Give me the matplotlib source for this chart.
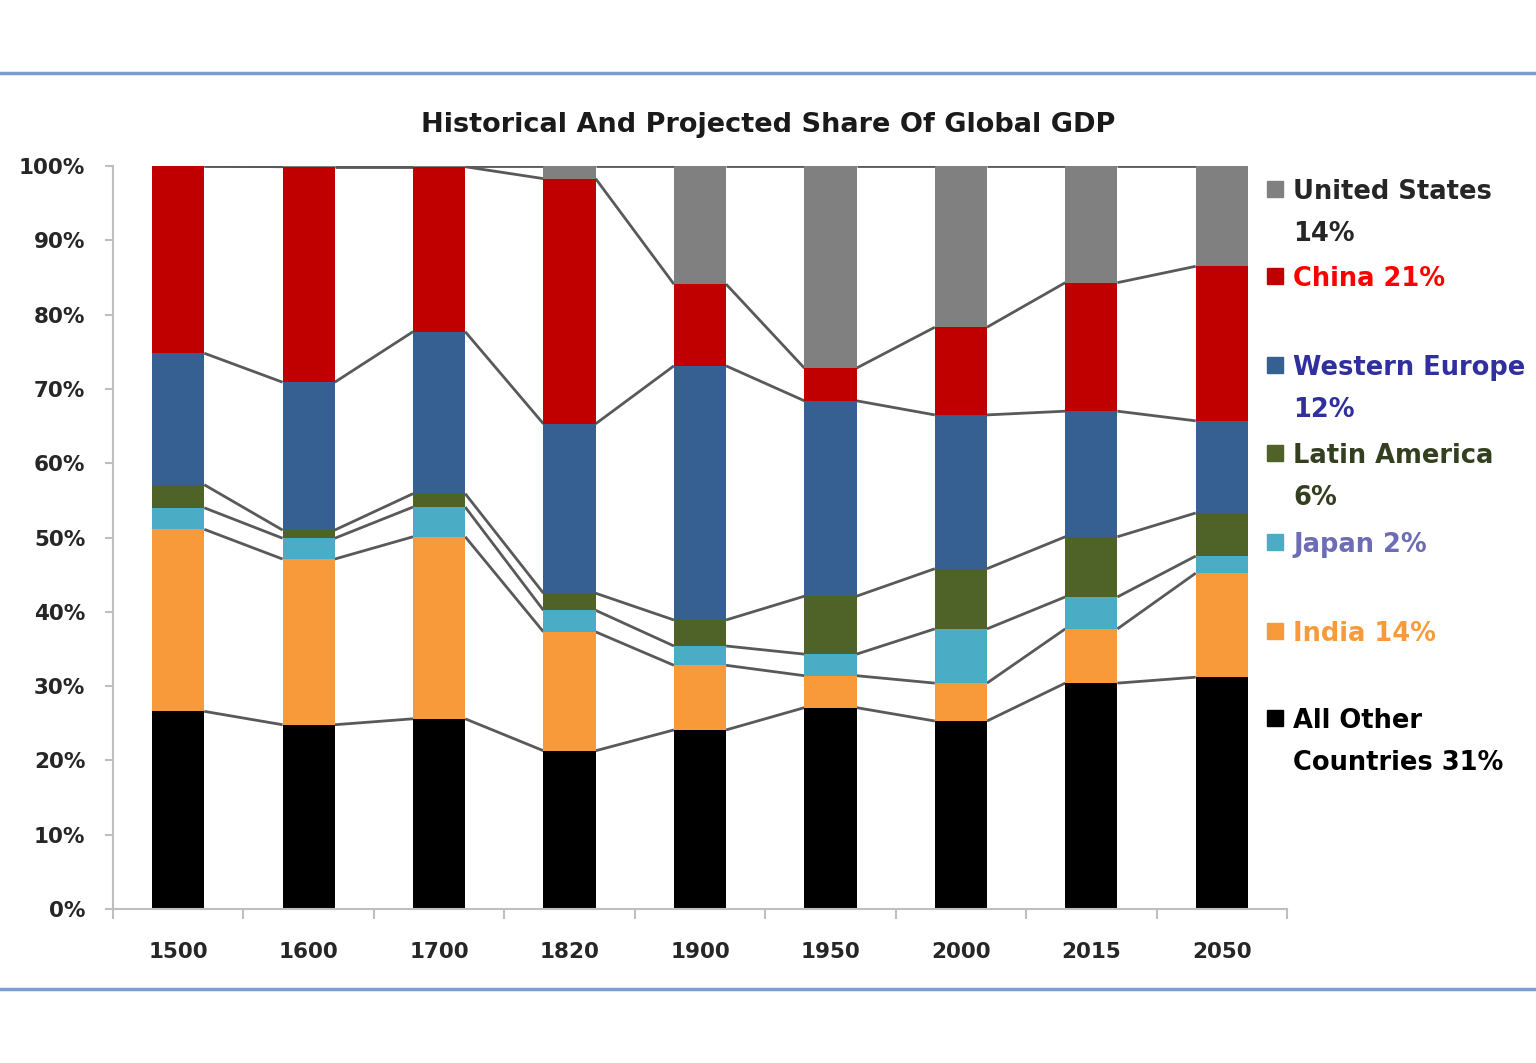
import numpy as np
import matplotlib
matplotlib.use("Agg")
import matplotlib.pyplot as plt

plt.rcParams['font.family'] = ['DejaVu Sans']

years = ["1500", "1600", "1700", "1820", "1900", "1950", "2000", "2015", "2050"]

# shares of global GDP, in percent, bottom to top
all_other = [26.6, 24.8, 25.6, 21.3, 24.1, 27.1, 25.3, 30.4, 31.2]
india = [24.5, 22.3, 24.5, 16.0, 8.7, 4.3, 5.1, 7.3, 14.0]
japan = [2.9, 2.8, 4.0, 2.9, 2.6, 2.9, 7.3, 4.3, 2.3]
latin_america = [3.1, 1.1, 1.8, 2.3, 3.5, 7.8, 8.1, 8.1, 5.8]
western_europe = [17.7, 19.9, 21.8, 22.8, 34.2, 26.3, 20.7, 16.9, 12.4]
china = [25.2, 29.0, 22.2, 33.0, 11.0, 4.4, 11.8, 17.3, 20.8]
united_states = [0.0, 0.1, 0.1, 1.7, 15.9, 27.2, 21.7, 15.7, 13.5]

series = [all_other, india, japan, latin_america, western_europe, china, united_states]
colors = ["#000000", "#F99A3A", "#4BACC6", "#4F6228", "#376092", "#C00000", "#808080"]

# legend entries: text lines, text colour, square colour
legend_entries = [
    (["United States", "14%"], "#262626", "#808080"),
    (["China 21%"], "#FF0000", "#C00000"),
    (["Western Europe", "12%"], "#2F2F9E", "#376092"),
    (["Latin America", "6%"], "#333F1F", "#4F6228"),
    (["Japan 2%"], "#6D6DB5", "#4BACC6"),
    (["India 14%"], "#F99A3A", "#F99A3A"),
    (["All Other", "Countries 31%"], "#000000", "#000000"),
]
# pixel rows (from top) of the first line of each entry
legend_rows = [189, 276, 365, 453, 542, 631, 718]
LINE_STEP = 42

W, H = 1536, 1063


def fy(row):
    return 1 - row / H


def main():
    fig = plt.figure(figsize=(W / 100, H / 100), dpi=100)
    ax = fig.add_axes([113 / W, fy(909), (1287 - 113) / W, (909 - 166) / H])

    x = np.arange(len(years))
    width = 0.4
    bottom = np.zeros(len(years))
    tops = []
    for values, color in zip(series, colors):
        values = np.array(values)
        ax.bar(x, values, width, bottom=bottom, color=color, zorder=2)
        bottom = bottom + values
        tops.append(bottom.copy())

    # series lines joining the segment tops of adjacent bars
    for top in tops:
        for i in range(len(years) - 1):
            ax.plot([x[i] + width / 2, x[i + 1] - width / 2], [top[i], top[i + 1]],
                    color="#595959", lw=2, zorder=1, solid_capstyle="butt")

    ax.set_xlim(-0.5, len(years) - 0.5)
    ax.set_ylim(0, 100)
    ax.set_yticks(np.arange(0, 101, 10))
    ax.set_yticklabels([f"{v}%" for v in range(0, 101, 10)])
    ax.set_xticks(x)
    ax.set_xticklabels(years)
    ax.set_xticks(np.arange(-0.5, len(years), 1), minor=True)
    ax.tick_params(axis="x", which="major", length=0, pad=24, labelsize=15.5, colors="#262626")
    ax.tick_params(axis="x", which="minor", length=7, width=1.5, color="#BFBFBF", direction="out")
    ax.tick_params(axis="y", length=6, width=1.5, color="#BFBFBF", labelsize=15.5, pad=14)
    for lab in ax.get_xticklabels() + ax.get_yticklabels():
        lab.set_fontweight("bold")
        lab.set_color("#262626")
    ax.spines["top"].set_visible(False)
    ax.spines["right"].set_visible(False)
    for side in ["left", "bottom"]:
        ax.spines[side].set_color("#BFBFBF")
        ax.spines[side].set_linewidth(1.5)

    fig.text(0.5, fy(125), "Historical And Projected Share Of Global GDP", ha="center",
             va="center", fontsize=19.5, fontweight="bold", color="#1a1a1a")

    # legend drawn as coloured text next to small squares
    for (lines, tcolor, scolor), row in zip(legend_entries, legend_rows):
        fig.patches.append(plt.Rectangle((1267 / W, fy(row + 8)), 16 / W, 16 / H,
                                         transform=fig.transFigure, color=scolor,
                                         figure=fig))
        for k, line in enumerate(lines):
            fig.text(1293 / W, fy(row + k * LINE_STEP + 10), line, color=tcolor,
                     fontsize=18.5, fontweight="bold", va="baseline", ha="left")

    # thin blue frame lines above and below the chart
    fig.add_artist(plt.Line2D([0, 1], [fy(73)] * 2, color="#7B9DD1", lw=2.5))
    fig.add_artist(plt.Line2D([0, 1], [fy(989)] * 2, color="#7B9DD1", lw=2.5))

    fig.savefig("out.png", dpi=100)


if __name__ == "__main__":
    main()
